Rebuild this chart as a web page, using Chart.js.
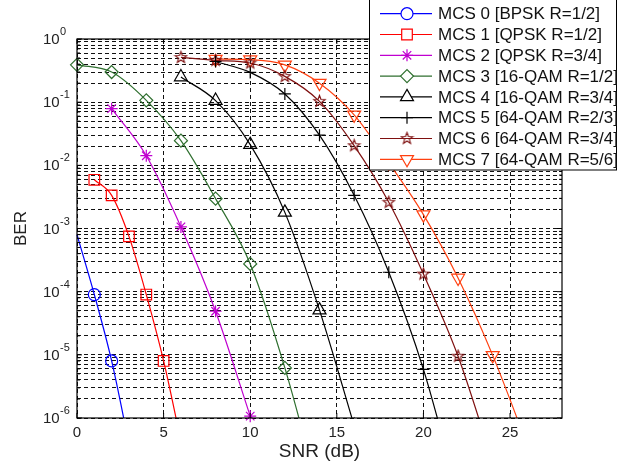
<!DOCTYPE html>
<html>
<head>
<meta charset="utf-8">
<script src="https://cdn.jsdelivr.net/npm/chart.js@4.4.0/dist/chart.umd.min.js"></script>
<style>
  html, body { margin: 0; padding: 0; background: #fff; }
  #wrap { width: 633px; height: 465px; position: relative; }
</style>
</head>
<body>
<div id="wrap"><canvas id="c" width="633" height="465"></canvas></div>
<script>
// ---- data ----
const labels = [
  'MCS 0 [BPSK R=1/2]', 'MCS 1 [QPSK R=1/2]', 'MCS 2 [QPSK R=3/4]', 'MCS 3 [16-QAM R=1/2]',
  'MCS 4 [16-QAM R=3/4]', 'MCS 5 [64-QAM R=2/3]', 'MCS 6 [64-QAM R=3/4]', 'MCS 7 [64-QAM R=5/6]'
];
const mcs0Snr = [0, 1, 2, 3];
const mcs0Ber = [8e-4, 9e-5, 8e-6, 3.9e-7];
const mcs1Snr = [1, 2, 3, 4, 5, 6];
const mcs1Ber = [5.9e-3, 3.35e-3, 7.5e-4, 9e-5, 8e-6, 4.3e-7];
const mcs2Snr = [2, 4, 6, 8, 10];
const mcs2Ber = [7.9e-2, 1.42e-2, 1.06e-3, 4.9e-5, 1.07e-6];
const mcs3Snr = [0, 2, 4, 6, 8, 10, 12, 14];
const mcs3Ber = [0.39, 0.30, 0.107, 0.0246, 2.97e-3, 2.75e-4, 6.2e-6, 6e-8];
const mcs4Snr = [6, 8, 10, 12, 14, 16];
const mcs4Ber = [0.25, 0.106, 0.0213, 1.8e-3, 5.1e-5, 7.6e-7];
const mcs5Snr = [8, 10, 12, 14, 16, 18, 20, 22];
const mcs5Ber = [0.44, 0.296, 0.135, 0.03, 3.35e-3, 2.03e-4, 5.9e-6, 6e-8];
const mcs6Snr = [6, 8, 10, 12, 14, 16, 18, 20, 22, 24];
const mcs6Ber = [0.51, 0.46, 0.417, 0.256, 0.103, 0.0205, 2.6e-3, 1.9e-4, 9.5e-6, 2e-7];
const mcs7Snr = [8, 10, 12, 14, 16, 18, 20, 22, 24, 26];
const mcs7Ber = [0.48, 0.47, 0.39, 0.20, 0.063, 0.011, 1.66e-3, 1.65e-4, 9.8e-6, 3.7e-7];
const xTickValues = [0, 5, 10, 15, 20, 25];
const yDecades = [-6, -5, -4, -3, -2, -1, 0];

// ---- styling ----
const FONT = '"Liberation Sans", Arial, Helvetica, sans-serif';
function pentagram(color) {
  const cv = document.createElement('canvas');
  cv.width = 15; cv.height = 15;
  const g = cv.getContext('2d');
  g.strokeStyle = color; g.lineWidth = 1.1;
  g.beginPath();
  for (let i = 0; i < 10; i++) {
    const r = i % 2 === 0 ? 6 : 2.5;
    const a = -Math.PI / 2 + i * Math.PI / 5;
    const px = 7.5 + r * Math.cos(a), py = 7.5 + r * Math.sin(a);
    if (i === 0) g.moveTo(px, py); else g.lineTo(px, py);
  }
  g.closePath(); g.stroke();
  return cv;
}
const pts = (xs, ys) => xs.map((x, i) => ({ x: x, y: ys[i] }));
const noClipLeft = { left: 10, top: 10, right: 0, bottom: 0 };
function ds(i, xs, ys, color, style, radius, extra) {
  return Object.assign({
    label: labels[i],
    data: pts(xs, ys),
    borderColor: color,
    backgroundColor: 'rgba(0,0,0,0)',
    pointBorderColor: color,
    pointBackgroundColor: 'rgba(0,0,0,0)',
    borderWidth: 1.2,
    pointBorderWidth: 1.2,
    pointStyle: style,
    pointRadius: radius,
    pointHoverRadius: radius,
    cubicInterpolationMode: 'monotone',
    clip: noClipLeft,
    fill: false
  }, extra || {});
}
const datasets = [
  ds(0, mcs0Snr, mcs0Ber, '#0000ff', 'circle', [0, 6, 6, 6]),
  ds(1, mcs1Snr, mcs1Ber, '#ff0000', 'rect', 7.5),
  ds(2, mcs2Snr, mcs2Ber, '#c000d0', 'star', 6, { clip: { left: 10, top: 10, right: 0, bottom: 10 } }),
  ds(3, mcs3Snr, mcs3Ber, '#2f6f2f', 'rectRot', 6.5),
  ds(4, mcs4Snr, mcs4Ber, '#000000', 'triangle', 7.5),
  ds(5, mcs5Snr, mcs5Ber, '#000000', 'cross', 6),
  ds(6, mcs6Snr, mcs6Ber, '#7f1010', pentagram('#7f1010'), 6),
  ds(7, mcs7Snr, mcs7Ber, '#ff4010', 'triangle', 7.5, { pointRotation: 180 })
];

function decadeExp(v) {
  const e = Math.round(Math.log10(v));
  if (Math.abs(v - Math.pow(10, e)) > 1e-9 * Math.pow(10, e)) return null;
  return e;
}

const boxPlugin = {
  id: 'boxAndLegend',
  afterDraw(chart) {
    const ctx = chart.ctx;
    const a = chart.chartArea;
    const ys = chart.scales.y, xs = chart.scales.x;
    ctx.save();
    // axes box
    ctx.strokeStyle = '#000'; ctx.lineWidth = 1.2; ctx.setLineDash([]);
    ctx.strokeRect(a.left, a.top, a.right - a.left, a.bottom - a.top);
    // inward ticks
    ctx.lineWidth = 1;
    ctx.beginPath();
    ys.ticks.forEach(t => {
      const y = ys.getPixelForValue(t.value);
      const len = decadeExp(t.value) !== null ? 5 : 3;
      ctx.moveTo(a.left, y); ctx.lineTo(a.left + len, y);
      ctx.moveTo(a.right, y); ctx.lineTo(a.right - len, y);
    });
    xs.ticks.forEach(t => {
      const x = xs.getPixelForValue(t.value);
      ctx.moveTo(x, a.bottom); ctx.lineTo(x, a.bottom - 5);
      ctx.moveTo(x, a.top); ctx.lineTo(x, a.top + 5);
    });
    ctx.stroke();

    // y tick labels: 10 with a raised exponent
    ctx.fillStyle = '#222';
    ctx.textAlign = 'left';
    ys.ticks.forEach(t => {
      const e = decadeExp(t.value);
      if (e === null) return;
      const y = ys.getPixelForValue(t.value);
      ctx.font = '15px ' + FONT;
      ctx.textBaseline = 'middle';
      ctx.fillText('10', 43, y + 1);
      ctx.font = '11px ' + FONT;
      ctx.fillText(String(e), 60, y - 7);
    });

    // legend box drawn over the plot
    const L = { x: 369.5, y: -2, w: 247, h: 172 };
    ctx.fillStyle = '#fff';
    ctx.fillRect(L.x, L.y, L.w, L.h);
    ctx.strokeStyle = '#000'; ctx.lineWidth = 1;
    ctx.strokeRect(L.x, L.y, L.w, L.h);
    chart.data.datasets.forEach((d, i) => {
      const y = 13.7 + 20.8 * i;
      ctx.strokeStyle = d.borderColor; ctx.lineWidth = d.borderWidth;
      ctx.beginPath(); ctx.moveTo(380, y); ctx.lineTo(432, y); ctx.stroke();
      const r = Array.isArray(d.pointRadius) ? d.pointRadius[d.pointRadius.length - 1] : d.pointRadius;
      if (Chart.helpers && Chart.helpers.drawPoint) {
        ctx.fillStyle = '#fff';
        Chart.helpers.drawPoint(ctx, {
          pointStyle: d.pointStyle, rotation: d.pointRotation || 0,
          radius: r, borderWidth: d.pointBorderWidth
        }, 407, y);
      }
      ctx.fillStyle = '#111';
      ctx.font = '17px ' + FONT;
      ctx.textBaseline = 'middle'; ctx.textAlign = 'left';
      ctx.fillText(d.label, 438, y + 1);
    });
    ctx.restore();
  }
};

new Chart(document.getElementById('c'), {
  type: 'line',
  data: { datasets: datasets },
  plugins: [boxPlugin],
  options: {
    responsive: false,
    animation: false,
    events: [],
    layout: { padding: { top: 39, right: 71, bottom: 0, left: 0 } },
    plugins: { legend: { display: false }, tooltip: { enabled: false } },
    scales: {
      x: {
        type: 'linear', min: 0, max: 28,
        afterBuildTicks: s => { s.ticks = xTickValues.map(v => ({ value: v })); },
        afterFit: s => { s.height = 47; },
        grid: { color: '#111', lineWidth: 1, drawTicks: false },
        border: { display: false, dash: [4, 3] },
        ticks: { color: '#222', padding: 6, font: { family: FONT, size: 15 }, maxRotation: 0, autoSkip: false },
        title: { display: true, text: 'SNR (dB)', color: '#222', font: { family: FONT, size: 19 }, padding: { top: 0, bottom: 2 } }
      },
      y: {
        type: 'logarithmic', min: 1e-6, max: 1,
        afterBuildTicks: s => {
          const t = [];
          yDecades.forEach(e => {
            for (let m = 1; m <= 9; m++) {
              const v = m * Math.pow(10, e);
              if (v <= 1.0000001) t.push({ value: v });
            }
          });
          s.ticks = t;
        },
        afterFit: s => { s.width = 77; },
        grid: { color: '#111', lineWidth: 1, drawTicks: false },
        border: { display: false, dash: [4, 3] },
        ticks: { display: false, autoSkip: false },
        title: { display: true, text: 'BER', color: '#222', font: { family: FONT, size: 17 }, padding: { top: 11, bottom: 0 } }
      }
    }
  }
});
</script>
</body>
</html>
